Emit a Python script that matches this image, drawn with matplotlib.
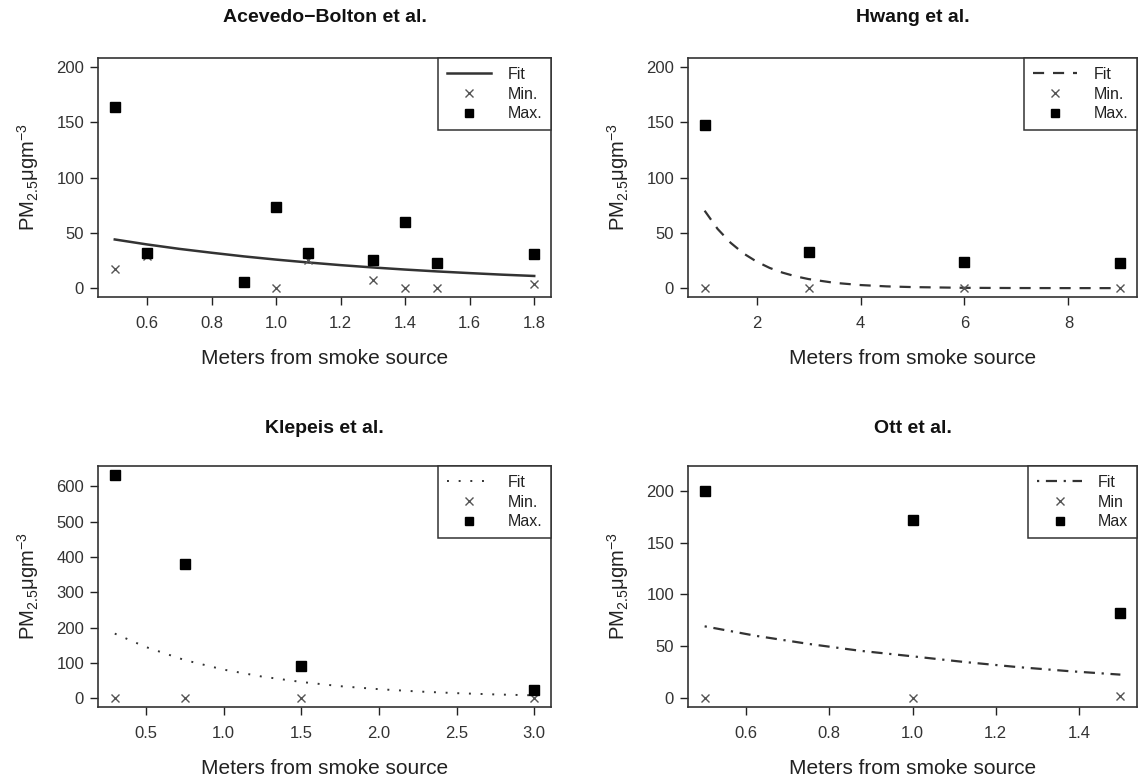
import matplotlib
matplotlib.use("Agg")
import matplotlib.pyplot as plt

plt.rcParams['font.family'] = ['Liberation Sans', 'DejaVu Sans']
plt.rcParams['mathtext.fontset'] = 'custom'
plt.rcParams['mathtext.rm'] = 'Liberation Sans'
plt.rcParams['mathtext.it'] = 'Liberation Sans'

# ---- data ----
titles = ["Acevedo\u2212Bolton et al.", "Hwang et al.", "Klepeis et al.", "Ott et al."]

ace_x = [0.5, 0.6, 0.9, 1.0, 1.1, 1.3, 1.4, 1.5, 1.8]
ace_max = [164, 32, 6, 73, 32, 25, 60, 23, 31]
ace_min = [17, 29, 6, 0, 25, 7, 0, 0, 4]
ace_fit_x = [0.5, 0.6, 0.7, 0.8, 0.9, 1.0, 1.1, 1.2, 1.3, 1.4, 1.5, 1.6, 1.7, 1.8]
ace_fit_y = [44, 39.5, 35.5, 32, 28.7, 25.8, 23.2, 20.8, 18.7, 16.8, 15.1, 13.6, 12.2, 11]

hw_x = [1, 3, 6, 9]
hw_max = [147, 33, 24, 23]
hw_min = [0, 0, 0, 0]
hw_fit_x = [1, 1.25, 1.5, 1.75, 2, 2.25, 2.5, 2.75, 3, 3.5, 4, 4.5, 5, 6, 7, 8, 9]
hw_fit_y = [70, 53.5, 41, 31.3, 24, 18.3, 14, 10.7, 8.2, 4.8, 2.8, 1.6, 0.95, 0.3, 0.1, 0.03, 0.01]

kl_x = [0.3, 0.75, 1.5, 3.0]
kl_max = [633, 381, 91, 24]
kl_min = [0, 0, 0, 0]
kl_fit_x = [0.3, 0.5, 0.75, 1.0, 1.25, 1.5, 1.75, 2.0, 2.25, 2.5, 2.75, 3.0]
kl_fit_y = [183, 145, 108, 81, 61, 46, 34, 25.5, 19, 14.2, 10.6, 8]

ott_x = [0.5, 1.0, 1.5]
ott_max = [200, 172, 82]
ott_min = [0, 0, 2]
ott_fit_x = [0.5, 0.625, 0.75, 0.875, 1.0, 1.125, 1.25, 1.375, 1.5]
ott_fit_y = [69, 59.7, 52, 45.3, 40, 34.5, 29.7, 25.7, 22.3]

panels = [
    dict(x=ace_x, mx=ace_max, mn=ace_min, fx=ace_fit_x, fy=ace_fit_y, ls='-', lw=1.8,
         xlim=(0.448, 1.852), ylim=(-8, 208), xt=[0.6, 0.8, 1.0, 1.2, 1.4, 1.6, 1.8], xfmt="{:.1f}",
         yt=[0, 50, 100, 150, 200], labels=["Fit", "Min.", "Max."]),
    dict(x=hw_x, mx=hw_max, mn=hw_min, fx=hw_fit_x, fy=hw_fit_y, ls=(0, (5, 4)), lw=1.6,
         xlim=(0.68, 9.32), ylim=(-8, 208), xt=[2, 4, 6, 8], xfmt="{:.0f}",
         yt=[0, 50, 100, 150, 200], labels=["Fit", "Min.", "Max."]),
    dict(x=kl_x, mx=kl_max, mn=kl_min, fx=kl_fit_x, fy=kl_fit_y, ls=(0, (1, 5)), lw=1.4,
         xlim=(0.192, 3.108), ylim=(-25, 658), xt=[0.5, 1.0, 1.5, 2.0, 2.5, 3.0], xfmt="{:.1f}",
         yt=[0, 100, 200, 300, 400, 500, 600], labels=["Fit", "Min.", "Max."]),
    dict(x=ott_x, mx=ott_max, mn=ott_min, fx=ott_fit_x, fy=ott_fit_y, ls=(0, (1, 3, 5, 3)), lw=1.6,
         xlim=(0.46, 1.54), ylim=(-9, 224), xt=[0.6, 0.8, 1.0, 1.2, 1.4], xfmt="{:.1f}",
         yt=[0, 50, 100, 150, 200], labels=["Fit", "Min", "Max"]),
]

W, H = 1141, 783
fig = plt.figure(figsize=(W / 100, H / 100), dpi=100)

boxes = [(98, 58, 551, 297), (688, 58, 1137, 297), (98, 466, 551, 707), (688, 466, 1137, 707)]
title_y = [18, 18, 429, 429]
xlabel_y = [358, 358, 768, 768]

tick_col = '#333333'
for p, t, (x0, y0, x1, y1), ty, xly in zip(panels, titles, boxes, title_y, xlabel_y):
    ax = fig.add_axes([x0 / W, 1 - y1 / H, (x1 - x0) / W, (y1 - y0) / H])
    l1, = ax.plot(p['fx'], p['fy'], linestyle=p['ls'], color='#333333', lw=p['lw'])
    l2, = ax.plot(p['x'], p['mn'], 'x', color='#555555', ms=6, mew=1.0, linestyle='none')
    l3, = ax.plot(p['x'], p['mx'], 's', color='black', ms=7, linestyle='none')
    ax.set_xlim(*p['xlim'])
    ax.set_ylim(*p['ylim'])
    ax.set_xticks(p['xt'])
    ax.set_xticklabels([p['xfmt'].format(v) for v in p['xt']])
    ax.set_yticks(p['yt'])
    ax.tick_params(direction='out', length=6, width=1, colors='#222222', labelcolor=tick_col,
                   labelsize=12)
    ax.tick_params(axis='x', pad=8)
    ax.tick_params(axis='y', pad=4)
    for s in ax.spines.values():
        s.set_linewidth(1.2)
        s.set_color('#333333')
    fig.text((x0 + x1) / 2 / W, 1 - ty / H, t, fontsize=14, fontweight='bold',
             color='#111111', ha='center', va='center')
    ax.set_xlabel("Meters from smoke source", fontsize=15, color='#222222')
    ax.xaxis.set_label_coords(0.5, -(xly - y1) / (y1 - y0))
    ax.xaxis.label.set_va('center')
    ax.set_ylabel(r"PM$_{2.5}$$\mathrm{\mu}$gm$^{-3}$", fontsize=14.5, color='#222222')
    ax.yaxis.set_label_coords(-70 / (x1 - x0), 0.5)
    ax.yaxis.label.set_va('center')
    ax.yaxis.label.set_rotation_mode('anchor')
    leg = ax.legend([l1, l2, l3], p['labels'], loc='upper right', borderaxespad=0,
                    fancybox=False, framealpha=1, edgecolor='#333333', fontsize=11.5,
                    handlelength=2.8, handletextpad=1.0, labelspacing=0.3,
                    borderpad=0.55, markerscale=0.85)
    leg.get_frame().set_linewidth(1.1)
    for txt in leg.get_texts():
        txt.set_color('#222222')

fig.savefig("out.png", dpi=100)
